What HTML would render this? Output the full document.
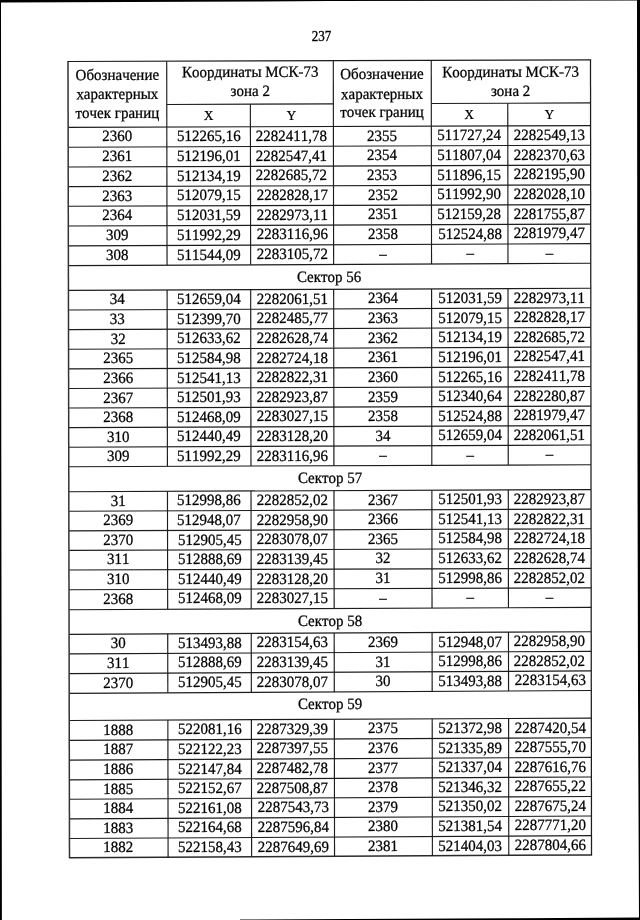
<!DOCTYPE html>
<html lang="ru"><head><meta charset="utf-8"><title>237</title>
<style>
html,body{margin:0;padding:0;background:#fff}
#page{position:relative;width:640px;height:920px;background:#fff;overflow:hidden;font-kerning:none;font-variant-ligatures:none;font-family:"Liberation Serif",serif;color:#000}
#page svg{position:absolute;left:0;top:0}
#pn{position:absolute;left:301.5px;width:40px;text-align:center;top:27.6px;font-size:13px;line-height:18px;transform:scaleY(1.07);transform-origin:0 13.4px;-webkit-text-stroke:0.3px #000}
.t{position:absolute;text-align:center;white-space:nowrap;font-size:15px;line-height:20px;height:20px;transform:rotate(-0.2deg) scaleY(1.05);transform-origin:50% 15.06px;-webkit-text-stroke:0.25px #000}
.t.s{font-size:13px}
</style></head><body>
<div id="page">
<svg width="640" height="920" viewBox="0 0 640 920">
<path fill="#000" fill-rule="evenodd" d="M0 0H640V920H0Z M1 2.6 L1.3 460 L1.9 921 L240 921 L240 919.5 L350 919 L520 918.2 L639 917.4 L638 690 L637.5 460 L637 0.5 L330 1 L260 1.6 Z"/>
<g fill="none" shape-rendering="geometricPrecision">
<line x1="67.40" y1="61.50" x2="591.10" y2="59.80" stroke="#1c1c1c" stroke-width="1.25"/>
<line x1="68.90" y1="857.80" x2="592.10" y2="854.90" stroke="#2a2a2a" stroke-width="1.5"/>
<line x1="68.12" y1="127.40" x2="590.58" y2="125.65" stroke="#1c1c1c" stroke-width="1.15"/>
<line x1="68.16" y1="147.20" x2="590.61" y2="145.20" stroke="#1c1c1c" stroke-width="1.15"/>
<line x1="68.20" y1="167.00" x2="590.63" y2="165.10" stroke="#1c1c1c" stroke-width="1.15"/>
<line x1="68.24" y1="186.60" x2="590.65" y2="184.80" stroke="#1c1c1c" stroke-width="1.15"/>
<line x1="68.27" y1="206.20" x2="590.68" y2="204.60" stroke="#1c1c1c" stroke-width="1.15"/>
<line x1="68.31" y1="226.00" x2="590.70" y2="224.10" stroke="#1c1c1c" stroke-width="1.15"/>
<line x1="68.35" y1="245.90" x2="590.73" y2="243.60" stroke="#1c1c1c" stroke-width="1.15"/>
<line x1="68.38" y1="265.65" x2="590.75" y2="263.30" stroke="#1c1c1c" stroke-width="1.15"/>
<line x1="68.43" y1="290.40" x2="590.78" y2="288.30" stroke="#1c1c1c" stroke-width="1.15"/>
<line x1="68.47" y1="310.00" x2="590.81" y2="307.80" stroke="#1c1c1c" stroke-width="1.15"/>
<line x1="68.51" y1="329.60" x2="590.83" y2="327.40" stroke="#1c1c1c" stroke-width="1.15"/>
<line x1="68.54" y1="349.30" x2="590.86" y2="347.00" stroke="#1c1c1c" stroke-width="1.15"/>
<line x1="68.58" y1="368.90" x2="590.88" y2="366.80" stroke="#1c1c1c" stroke-width="1.15"/>
<line x1="68.62" y1="388.50" x2="590.91" y2="386.50" stroke="#1c1c1c" stroke-width="1.15"/>
<line x1="68.65" y1="408.00" x2="590.93" y2="406.10" stroke="#1c1c1c" stroke-width="1.15"/>
<line x1="68.69" y1="427.60" x2="590.96" y2="425.60" stroke="#1c1c1c" stroke-width="1.15"/>
<line x1="68.73" y1="447.20" x2="590.98" y2="445.00" stroke="#1c1c1c" stroke-width="1.15"/>
<line x1="68.76" y1="466.70" x2="591.01" y2="464.80" stroke="#1c1c1c" stroke-width="1.15"/>
<line x1="68.81" y1="491.70" x2="591.04" y2="489.60" stroke="#1c1c1c" stroke-width="1.15"/>
<line x1="68.85" y1="511.30" x2="591.06" y2="509.10" stroke="#1c1c1c" stroke-width="1.15"/>
<line x1="68.88" y1="530.90" x2="591.09" y2="528.70" stroke="#1c1c1c" stroke-width="1.15"/>
<line x1="68.92" y1="550.40" x2="591.11" y2="548.50" stroke="#1c1c1c" stroke-width="1.15"/>
<line x1="68.96" y1="570.00" x2="591.14" y2="568.30" stroke="#1c1c1c" stroke-width="1.15"/>
<line x1="68.99" y1="589.70" x2="591.16" y2="587.80" stroke="#1c1c1c" stroke-width="1.15"/>
<line x1="69.03" y1="609.70" x2="591.19" y2="607.40" stroke="#1c1c1c" stroke-width="1.15"/>
<line x1="69.08" y1="634.30" x2="591.22" y2="631.70" stroke="#1c1c1c" stroke-width="1.15"/>
<line x1="69.12" y1="653.90" x2="591.24" y2="651.30" stroke="#1c1c1c" stroke-width="1.15"/>
<line x1="69.15" y1="673.60" x2="591.27" y2="670.90" stroke="#1c1c1c" stroke-width="1.15"/>
<line x1="69.19" y1="693.40" x2="591.29" y2="690.50" stroke="#1c1c1c" stroke-width="1.15"/>
<line x1="69.24" y1="720.50" x2="591.32" y2="718.10" stroke="#1c1c1c" stroke-width="1.15"/>
<line x1="69.28" y1="740.30" x2="591.35" y2="737.70" stroke="#1c1c1c" stroke-width="1.15"/>
<line x1="69.32" y1="760.10" x2="591.37" y2="757.30" stroke="#1c1c1c" stroke-width="1.15"/>
<line x1="69.35" y1="779.80" x2="591.40" y2="777.00" stroke="#1c1c1c" stroke-width="1.15"/>
<line x1="69.39" y1="799.20" x2="591.42" y2="796.50" stroke="#1c1c1c" stroke-width="1.15"/>
<line x1="69.43" y1="818.90" x2="591.45" y2="816.00" stroke="#1c1c1c" stroke-width="1.15"/>
<line x1="69.46" y1="838.50" x2="591.47" y2="835.60" stroke="#1c1c1c" stroke-width="1.15"/>
<line x1="166.78" y1="104.52" x2="333.37" y2="103.88" stroke="#1c1c1c" stroke-width="1.15"/>
<line x1="431.31" y1="103.51" x2="590.55" y2="102.90" stroke="#1c1c1c" stroke-width="1.15"/>
<line x1="68.00" y1="61.50" x2="69.50" y2="857.80" stroke="#333" stroke-width="1.5"/>
<line x1="590.50" y1="59.80" x2="591.50" y2="854.90" stroke="#1c1c1c" stroke-width="1.25"/>
<line x1="166.70" y1="61.18" x2="166.82" y2="127.07" stroke="#1c1c1c" stroke-width="1.15"/>
<line x1="333.30" y1="60.64" x2="333.40" y2="126.51" stroke="#1c1c1c" stroke-width="1.15"/>
<line x1="431.25" y1="60.32" x2="431.34" y2="126.18" stroke="#1c1c1c" stroke-width="1.15"/>
<line x1="250.37" y1="104.20" x2="250.41" y2="126.79" stroke="#1c1c1c" stroke-width="1.15"/>
<line x1="507.76" y1="103.22" x2="507.79" y2="125.93" stroke="#1c1c1c" stroke-width="1.15"/>
<line x1="166.82" y1="127.07" x2="166.85" y2="146.82" stroke="#1c1c1c" stroke-width="1.15"/>
<line x1="250.41" y1="126.79" x2="250.44" y2="146.50" stroke="#1c1c1c" stroke-width="1.15"/>
<line x1="333.40" y1="126.51" x2="333.43" y2="146.18" stroke="#1c1c1c" stroke-width="1.15"/>
<line x1="431.34" y1="126.18" x2="431.37" y2="145.81" stroke="#1c1c1c" stroke-width="1.15"/>
<line x1="507.79" y1="125.93" x2="507.81" y2="145.52" stroke="#1c1c1c" stroke-width="1.15"/>
<line x1="166.85" y1="146.82" x2="166.89" y2="166.64" stroke="#1c1c1c" stroke-width="1.15"/>
<line x1="250.44" y1="146.50" x2="250.47" y2="166.34" stroke="#1c1c1c" stroke-width="1.15"/>
<line x1="333.43" y1="146.18" x2="333.46" y2="166.04" stroke="#1c1c1c" stroke-width="1.15"/>
<line x1="431.37" y1="145.81" x2="431.40" y2="165.68" stroke="#1c1c1c" stroke-width="1.15"/>
<line x1="507.81" y1="145.52" x2="507.84" y2="165.40" stroke="#1c1c1c" stroke-width="1.15"/>
<line x1="166.89" y1="166.64" x2="166.92" y2="186.26" stroke="#1c1c1c" stroke-width="1.15"/>
<line x1="250.47" y1="166.34" x2="250.51" y2="185.97" stroke="#1c1c1c" stroke-width="1.15"/>
<line x1="333.46" y1="166.04" x2="333.49" y2="185.69" stroke="#1c1c1c" stroke-width="1.15"/>
<line x1="431.40" y1="165.68" x2="431.43" y2="185.35" stroke="#1c1c1c" stroke-width="1.15"/>
<line x1="507.84" y1="165.40" x2="507.87" y2="185.09" stroke="#1c1c1c" stroke-width="1.15"/>
<line x1="166.92" y1="186.26" x2="166.95" y2="205.90" stroke="#1c1c1c" stroke-width="1.15"/>
<line x1="250.51" y1="185.97" x2="250.54" y2="205.64" stroke="#1c1c1c" stroke-width="1.15"/>
<line x1="333.49" y1="185.69" x2="333.53" y2="205.39" stroke="#1c1c1c" stroke-width="1.15"/>
<line x1="431.43" y1="185.35" x2="431.46" y2="205.09" stroke="#1c1c1c" stroke-width="1.15"/>
<line x1="507.87" y1="185.09" x2="507.89" y2="204.85" stroke="#1c1c1c" stroke-width="1.15"/>
<line x1="166.95" y1="205.90" x2="166.99" y2="225.64" stroke="#1c1c1c" stroke-width="1.15"/>
<line x1="250.54" y1="205.64" x2="250.57" y2="225.34" stroke="#1c1c1c" stroke-width="1.15"/>
<line x1="333.53" y1="205.39" x2="333.56" y2="225.04" stroke="#1c1c1c" stroke-width="1.15"/>
<line x1="431.46" y1="205.09" x2="431.49" y2="224.68" stroke="#1c1c1c" stroke-width="1.15"/>
<line x1="507.89" y1="204.85" x2="507.92" y2="224.40" stroke="#1c1c1c" stroke-width="1.15"/>
<line x1="166.99" y1="225.64" x2="167.02" y2="245.47" stroke="#1c1c1c" stroke-width="1.15"/>
<line x1="250.57" y1="225.34" x2="250.61" y2="245.10" stroke="#1c1c1c" stroke-width="1.15"/>
<line x1="333.56" y1="225.04" x2="333.59" y2="244.73" stroke="#1c1c1c" stroke-width="1.15"/>
<line x1="431.49" y1="224.68" x2="431.51" y2="244.30" stroke="#1c1c1c" stroke-width="1.15"/>
<line x1="507.92" y1="224.40" x2="507.95" y2="243.96" stroke="#1c1c1c" stroke-width="1.15"/>
<line x1="167.02" y1="245.47" x2="167.06" y2="265.21" stroke="#1c1c1c" stroke-width="1.15"/>
<line x1="250.61" y1="245.10" x2="250.64" y2="264.83" stroke="#1c1c1c" stroke-width="1.15"/>
<line x1="333.59" y1="244.73" x2="333.62" y2="264.46" stroke="#1c1c1c" stroke-width="1.15"/>
<line x1="431.51" y1="244.30" x2="431.54" y2="264.02" stroke="#1c1c1c" stroke-width="1.15"/>
<line x1="507.95" y1="243.96" x2="507.97" y2="263.67" stroke="#1c1c1c" stroke-width="1.15"/>
<line x1="167.10" y1="290.00" x2="167.14" y2="309.58" stroke="#1c1c1c" stroke-width="1.15"/>
<line x1="250.68" y1="289.67" x2="250.71" y2="309.23" stroke="#1c1c1c" stroke-width="1.15"/>
<line x1="333.66" y1="289.33" x2="333.69" y2="308.88" stroke="#1c1c1c" stroke-width="1.15"/>
<line x1="431.58" y1="288.94" x2="431.61" y2="308.47" stroke="#1c1c1c" stroke-width="1.15"/>
<line x1="508.01" y1="288.63" x2="508.03" y2="308.15" stroke="#1c1c1c" stroke-width="1.15"/>
<line x1="167.14" y1="309.58" x2="167.17" y2="329.18" stroke="#1c1c1c" stroke-width="1.15"/>
<line x1="250.71" y1="309.23" x2="250.75" y2="328.83" stroke="#1c1c1c" stroke-width="1.15"/>
<line x1="333.69" y1="308.88" x2="333.72" y2="328.48" stroke="#1c1c1c" stroke-width="1.15"/>
<line x1="431.61" y1="308.47" x2="431.64" y2="328.07" stroke="#1c1c1c" stroke-width="1.15"/>
<line x1="508.03" y1="308.15" x2="508.06" y2="327.75" stroke="#1c1c1c" stroke-width="1.15"/>
<line x1="167.17" y1="329.18" x2="167.21" y2="348.87" stroke="#1c1c1c" stroke-width="1.15"/>
<line x1="250.75" y1="328.83" x2="250.78" y2="348.50" stroke="#1c1c1c" stroke-width="1.15"/>
<line x1="333.72" y1="328.48" x2="333.75" y2="348.13" stroke="#1c1c1c" stroke-width="1.15"/>
<line x1="431.64" y1="328.07" x2="431.66" y2="347.70" stroke="#1c1c1c" stroke-width="1.15"/>
<line x1="508.06" y1="327.75" x2="508.09" y2="347.36" stroke="#1c1c1c" stroke-width="1.15"/>
<line x1="167.21" y1="348.87" x2="167.24" y2="368.50" stroke="#1c1c1c" stroke-width="1.15"/>
<line x1="250.78" y1="348.50" x2="250.81" y2="368.17" stroke="#1c1c1c" stroke-width="1.15"/>
<line x1="333.75" y1="348.13" x2="333.78" y2="367.83" stroke="#1c1c1c" stroke-width="1.15"/>
<line x1="431.66" y1="347.70" x2="431.69" y2="367.44" stroke="#1c1c1c" stroke-width="1.15"/>
<line x1="508.09" y1="347.36" x2="508.11" y2="367.13" stroke="#1c1c1c" stroke-width="1.15"/>
<line x1="167.24" y1="368.50" x2="167.28" y2="388.12" stroke="#1c1c1c" stroke-width="1.15"/>
<line x1="250.81" y1="368.17" x2="250.84" y2="387.80" stroke="#1c1c1c" stroke-width="1.15"/>
<line x1="333.78" y1="367.83" x2="333.81" y2="387.48" stroke="#1c1c1c" stroke-width="1.15"/>
<line x1="431.69" y1="367.44" x2="431.72" y2="387.11" stroke="#1c1c1c" stroke-width="1.15"/>
<line x1="508.11" y1="367.13" x2="508.14" y2="386.82" stroke="#1c1c1c" stroke-width="1.15"/>
<line x1="167.28" y1="388.12" x2="167.31" y2="407.64" stroke="#1c1c1c" stroke-width="1.15"/>
<line x1="250.84" y1="387.80" x2="250.88" y2="407.34" stroke="#1c1c1c" stroke-width="1.15"/>
<line x1="333.81" y1="387.48" x2="333.84" y2="407.04" stroke="#1c1c1c" stroke-width="1.15"/>
<line x1="431.72" y1="387.11" x2="431.75" y2="406.68" stroke="#1c1c1c" stroke-width="1.15"/>
<line x1="508.14" y1="386.82" x2="508.17" y2="406.40" stroke="#1c1c1c" stroke-width="1.15"/>
<line x1="167.31" y1="407.64" x2="167.35" y2="427.22" stroke="#1c1c1c" stroke-width="1.15"/>
<line x1="250.88" y1="407.34" x2="250.91" y2="426.90" stroke="#1c1c1c" stroke-width="1.15"/>
<line x1="333.84" y1="407.04" x2="333.87" y2="426.58" stroke="#1c1c1c" stroke-width="1.15"/>
<line x1="431.75" y1="406.68" x2="431.78" y2="426.21" stroke="#1c1c1c" stroke-width="1.15"/>
<line x1="508.17" y1="406.40" x2="508.19" y2="425.92" stroke="#1c1c1c" stroke-width="1.15"/>
<line x1="167.35" y1="427.22" x2="167.38" y2="446.78" stroke="#1c1c1c" stroke-width="1.15"/>
<line x1="250.91" y1="426.90" x2="250.94" y2="446.43" stroke="#1c1c1c" stroke-width="1.15"/>
<line x1="333.87" y1="426.58" x2="333.90" y2="446.08" stroke="#1c1c1c" stroke-width="1.15"/>
<line x1="431.78" y1="426.21" x2="431.81" y2="445.67" stroke="#1c1c1c" stroke-width="1.15"/>
<line x1="508.19" y1="425.92" x2="508.22" y2="445.35" stroke="#1c1c1c" stroke-width="1.15"/>
<line x1="167.38" y1="446.78" x2="167.41" y2="466.34" stroke="#1c1c1c" stroke-width="1.15"/>
<line x1="250.94" y1="446.43" x2="250.97" y2="466.04" stroke="#1c1c1c" stroke-width="1.15"/>
<line x1="333.90" y1="446.08" x2="333.93" y2="465.74" stroke="#1c1c1c" stroke-width="1.15"/>
<line x1="431.81" y1="445.67" x2="431.83" y2="465.38" stroke="#1c1c1c" stroke-width="1.15"/>
<line x1="508.22" y1="445.35" x2="508.25" y2="465.10" stroke="#1c1c1c" stroke-width="1.15"/>
<line x1="167.46" y1="491.30" x2="167.49" y2="510.88" stroke="#1c1c1c" stroke-width="1.15"/>
<line x1="251.01" y1="490.97" x2="251.05" y2="510.53" stroke="#1c1c1c" stroke-width="1.15"/>
<line x1="333.97" y1="490.63" x2="334.00" y2="510.18" stroke="#1c1c1c" stroke-width="1.15"/>
<line x1="431.87" y1="490.24" x2="431.90" y2="509.77" stroke="#1c1c1c" stroke-width="1.15"/>
<line x1="508.28" y1="489.93" x2="508.31" y2="509.45" stroke="#1c1c1c" stroke-width="1.15"/>
<line x1="167.49" y1="510.88" x2="167.53" y2="530.48" stroke="#1c1c1c" stroke-width="1.15"/>
<line x1="251.05" y1="510.53" x2="251.08" y2="530.13" stroke="#1c1c1c" stroke-width="1.15"/>
<line x1="334.00" y1="510.18" x2="334.03" y2="529.78" stroke="#1c1c1c" stroke-width="1.15"/>
<line x1="431.90" y1="509.77" x2="431.93" y2="529.37" stroke="#1c1c1c" stroke-width="1.15"/>
<line x1="508.31" y1="509.45" x2="508.33" y2="529.05" stroke="#1c1c1c" stroke-width="1.15"/>
<line x1="167.53" y1="530.48" x2="167.56" y2="550.04" stroke="#1c1c1c" stroke-width="1.15"/>
<line x1="251.08" y1="530.13" x2="251.11" y2="549.74" stroke="#1c1c1c" stroke-width="1.15"/>
<line x1="334.03" y1="529.78" x2="334.06" y2="549.44" stroke="#1c1c1c" stroke-width="1.15"/>
<line x1="431.93" y1="529.37" x2="431.96" y2="549.08" stroke="#1c1c1c" stroke-width="1.15"/>
<line x1="508.33" y1="529.05" x2="508.36" y2="548.80" stroke="#1c1c1c" stroke-width="1.15"/>
<line x1="167.56" y1="550.04" x2="167.60" y2="569.68" stroke="#1c1c1c" stroke-width="1.15"/>
<line x1="251.11" y1="549.74" x2="251.15" y2="569.41" stroke="#1c1c1c" stroke-width="1.15"/>
<line x1="334.06" y1="549.44" x2="334.09" y2="569.14" stroke="#1c1c1c" stroke-width="1.15"/>
<line x1="431.96" y1="549.08" x2="431.98" y2="568.82" stroke="#1c1c1c" stroke-width="1.15"/>
<line x1="508.36" y1="548.80" x2="508.39" y2="568.57" stroke="#1c1c1c" stroke-width="1.15"/>
<line x1="167.60" y1="569.68" x2="167.63" y2="589.34" stroke="#1c1c1c" stroke-width="1.15"/>
<line x1="251.15" y1="569.41" x2="251.18" y2="589.04" stroke="#1c1c1c" stroke-width="1.15"/>
<line x1="334.09" y1="569.14" x2="334.13" y2="588.74" stroke="#1c1c1c" stroke-width="1.15"/>
<line x1="431.98" y1="568.82" x2="432.01" y2="588.38" stroke="#1c1c1c" stroke-width="1.15"/>
<line x1="508.39" y1="568.57" x2="508.41" y2="588.10" stroke="#1c1c1c" stroke-width="1.15"/>
<line x1="167.63" y1="589.34" x2="167.67" y2="609.27" stroke="#1c1c1c" stroke-width="1.15"/>
<line x1="251.18" y1="589.04" x2="251.21" y2="608.90" stroke="#1c1c1c" stroke-width="1.15"/>
<line x1="334.13" y1="588.74" x2="334.16" y2="608.53" stroke="#1c1c1c" stroke-width="1.15"/>
<line x1="432.01" y1="588.38" x2="432.04" y2="608.10" stroke="#1c1c1c" stroke-width="1.15"/>
<line x1="508.41" y1="588.10" x2="508.44" y2="607.76" stroke="#1c1c1c" stroke-width="1.15"/>
<line x1="167.71" y1="633.81" x2="167.74" y2="653.41" stroke="#1c1c1c" stroke-width="1.15"/>
<line x1="251.25" y1="633.39" x2="251.28" y2="652.99" stroke="#1c1c1c" stroke-width="1.15"/>
<line x1="334.19" y1="632.98" x2="334.22" y2="652.58" stroke="#1c1c1c" stroke-width="1.15"/>
<line x1="432.08" y1="632.49" x2="432.10" y2="652.09" stroke="#1c1c1c" stroke-width="1.15"/>
<line x1="508.47" y1="632.11" x2="508.50" y2="651.71" stroke="#1c1c1c" stroke-width="1.15"/>
<line x1="167.74" y1="653.41" x2="167.78" y2="673.09" stroke="#1c1c1c" stroke-width="1.15"/>
<line x1="251.28" y1="652.99" x2="251.32" y2="672.66" stroke="#1c1c1c" stroke-width="1.15"/>
<line x1="334.22" y1="652.58" x2="334.26" y2="672.23" stroke="#1c1c1c" stroke-width="1.15"/>
<line x1="432.10" y1="652.09" x2="432.13" y2="671.72" stroke="#1c1c1c" stroke-width="1.15"/>
<line x1="508.50" y1="651.71" x2="508.53" y2="671.33" stroke="#1c1c1c" stroke-width="1.15"/>
<line x1="167.78" y1="673.09" x2="167.81" y2="692.85" stroke="#1c1c1c" stroke-width="1.15"/>
<line x1="251.32" y1="672.66" x2="251.35" y2="692.39" stroke="#1c1c1c" stroke-width="1.15"/>
<line x1="334.26" y1="672.23" x2="334.29" y2="691.93" stroke="#1c1c1c" stroke-width="1.15"/>
<line x1="432.13" y1="671.72" x2="432.16" y2="691.38" stroke="#1c1c1c" stroke-width="1.15"/>
<line x1="508.53" y1="671.33" x2="508.55" y2="690.96" stroke="#1c1c1c" stroke-width="1.15"/>
<line x1="167.86" y1="720.05" x2="167.90" y2="739.81" stroke="#1c1c1c" stroke-width="1.15"/>
<line x1="251.40" y1="719.66" x2="251.43" y2="739.39" stroke="#1c1c1c" stroke-width="1.15"/>
<line x1="334.33" y1="719.28" x2="334.36" y2="738.98" stroke="#1c1c1c" stroke-width="1.15"/>
<line x1="432.20" y1="718.83" x2="432.23" y2="738.49" stroke="#1c1c1c" stroke-width="1.15"/>
<line x1="508.59" y1="718.48" x2="508.62" y2="738.11" stroke="#1c1c1c" stroke-width="1.15"/>
<line x1="167.90" y1="739.81" x2="167.93" y2="759.57" stroke="#1c1c1c" stroke-width="1.15"/>
<line x1="251.43" y1="739.39" x2="251.46" y2="759.12" stroke="#1c1c1c" stroke-width="1.15"/>
<line x1="334.36" y1="738.98" x2="334.39" y2="758.68" stroke="#1c1c1c" stroke-width="1.15"/>
<line x1="432.23" y1="738.49" x2="432.26" y2="758.15" stroke="#1c1c1c" stroke-width="1.15"/>
<line x1="508.62" y1="738.11" x2="508.64" y2="757.74" stroke="#1c1c1c" stroke-width="1.15"/>
<line x1="167.93" y1="759.57" x2="167.97" y2="779.27" stroke="#1c1c1c" stroke-width="1.15"/>
<line x1="251.46" y1="759.12" x2="251.49" y2="778.82" stroke="#1c1c1c" stroke-width="1.15"/>
<line x1="334.39" y1="758.68" x2="334.42" y2="778.38" stroke="#1c1c1c" stroke-width="1.15"/>
<line x1="432.26" y1="758.15" x2="432.29" y2="777.85" stroke="#1c1c1c" stroke-width="1.15"/>
<line x1="508.64" y1="757.74" x2="508.67" y2="777.44" stroke="#1c1c1c" stroke-width="1.15"/>
<line x1="167.97" y1="779.27" x2="168.00" y2="798.69" stroke="#1c1c1c" stroke-width="1.15"/>
<line x1="251.49" y1="778.82" x2="251.53" y2="798.26" stroke="#1c1c1c" stroke-width="1.15"/>
<line x1="334.42" y1="778.38" x2="334.45" y2="797.83" stroke="#1c1c1c" stroke-width="1.15"/>
<line x1="432.29" y1="777.85" x2="432.31" y2="797.32" stroke="#1c1c1c" stroke-width="1.15"/>
<line x1="508.67" y1="777.44" x2="508.70" y2="796.93" stroke="#1c1c1c" stroke-width="1.15"/>
<line x1="168.00" y1="798.69" x2="168.04" y2="818.35" stroke="#1c1c1c" stroke-width="1.15"/>
<line x1="251.53" y1="798.26" x2="251.56" y2="817.89" stroke="#1c1c1c" stroke-width="1.15"/>
<line x1="334.45" y1="797.83" x2="334.48" y2="817.43" stroke="#1c1c1c" stroke-width="1.15"/>
<line x1="432.31" y1="797.32" x2="432.34" y2="816.88" stroke="#1c1c1c" stroke-width="1.15"/>
<line x1="508.70" y1="796.93" x2="508.72" y2="816.46" stroke="#1c1c1c" stroke-width="1.15"/>
<line x1="168.04" y1="818.35" x2="168.07" y2="837.95" stroke="#1c1c1c" stroke-width="1.15"/>
<line x1="251.56" y1="817.89" x2="251.59" y2="837.49" stroke="#1c1c1c" stroke-width="1.15"/>
<line x1="334.48" y1="817.43" x2="334.51" y2="837.03" stroke="#1c1c1c" stroke-width="1.15"/>
<line x1="432.34" y1="816.88" x2="432.37" y2="836.48" stroke="#1c1c1c" stroke-width="1.15"/>
<line x1="508.72" y1="816.46" x2="508.75" y2="836.06" stroke="#1c1c1c" stroke-width="1.15"/>
<line x1="168.07" y1="837.95" x2="168.10" y2="857.25" stroke="#1c1c1c" stroke-width="1.15"/>
<line x1="251.59" y1="837.49" x2="251.62" y2="856.79" stroke="#1c1c1c" stroke-width="1.15"/>
<line x1="334.51" y1="837.03" x2="334.54" y2="856.33" stroke="#1c1c1c" stroke-width="1.15"/>
<line x1="432.37" y1="836.48" x2="432.40" y2="855.78" stroke="#1c1c1c" stroke-width="1.15"/>
<line x1="508.75" y1="836.06" x2="508.78" y2="855.36" stroke="#1c1c1c" stroke-width="1.15"/>
</g>
</svg>
<div id="pn">237</div>
<div class="t" style="left:68.03px;width:98.70px;top:64.88px">Обозначение</div>
<div class="t" style="left:68.07px;width:98.70px;top:84.38px">характерных</div>
<div class="t" style="left:68.10px;width:98.70px;top:103.08px">точек границ</div>
<div class="t" style="left:333.33px;width:97.95px;top:64.01px">Обозначение</div>
<div class="t" style="left:333.36px;width:97.95px;top:83.51px">характерных</div>
<div class="t" style="left:333.38px;width:97.95px;top:102.21px">точек границ</div>
<div class="t" style="left:166.73px;width:166.60px;top:62.35px">Координаты МСК-73</div>
<div class="t" style="left:166.76px;width:166.60px;top:81.45px">зона 2</div>
<div class="t" style="left:431.27px;width:159.25px;top:61.50px">Координаты МСК-73</div>
<div class="t" style="left:431.30px;width:159.25px;top:80.60px">зона 2</div>
<div class="t s" style="left:166.80px;width:83.60px;top:105.78px">X</div>
<div class="t s" style="left:250.40px;width:83.00px;top:105.51px">Y</div>
<div class="t s" style="left:431.33px;width:76.45px;top:104.93px">X</div>
<div class="t s" style="left:507.78px;width:82.80px;top:104.67px">Y</div>
<div class="t" style="left:68.15px;width:98.70px;top:126.47px">2360</div>
<div class="t" style="left:166.84px;width:83.60px;top:126.17px">512265,16</div>
<div class="t" style="left:250.43px;width:83.00px;top:125.89px">2282411,78</div>
<div class="t" style="left:333.42px;width:97.95px;top:125.58px">2355</div>
<div class="t" style="left:431.36px;width:76.45px;top:125.29px">511727,24</div>
<div class="t" style="left:507.80px;width:82.80px;top:125.03px">2282549,13</div>
<div class="t" style="left:68.18px;width:98.70px;top:146.25px">2361</div>
<div class="t" style="left:166.87px;width:83.60px;top:145.90px">512196,01</div>
<div class="t" style="left:250.46px;width:83.00px;top:145.58px">2282547,41</div>
<div class="t" style="left:333.45px;width:97.95px;top:145.23px">2354</div>
<div class="t" style="left:431.39px;width:76.45px;top:144.90px">511807,04</div>
<div class="t" style="left:507.83px;width:82.80px;top:144.60px">2282370,63</div>
<div class="t" style="left:68.22px;width:98.70px;top:166.06px">2362</div>
<div class="t" style="left:166.90px;width:83.60px;top:165.73px">512134,19</div>
<div class="t" style="left:250.49px;width:83.00px;top:165.42px">2282685,72</div>
<div class="t" style="left:333.48px;width:97.95px;top:165.09px">2353</div>
<div class="t" style="left:431.42px;width:76.45px;top:164.78px">511896,15</div>
<div class="t" style="left:507.85px;width:82.80px;top:164.49px">2282195,90</div>
<div class="t" style="left:68.25px;width:98.70px;top:185.67px">2363</div>
<div class="t" style="left:166.94px;width:83.60px;top:185.35px">512079,15</div>
<div class="t" style="left:250.52px;width:83.00px;top:185.07px">2282828,17</div>
<div class="t" style="left:333.51px;width:97.95px;top:184.75px">2352</div>
<div class="t" style="left:431.44px;width:76.45px;top:184.45px">511992,90</div>
<div class="t" style="left:507.88px;width:82.80px;top:184.18px">2282028,10</div>
<div class="t" style="left:68.29px;width:98.70px;top:205.29px">2364</div>
<div class="t" style="left:166.97px;width:83.60px;top:205.01px">512031,59</div>
<div class="t" style="left:250.56px;width:83.00px;top:204.75px">2282973,11</div>
<div class="t" style="left:333.54px;width:97.95px;top:204.48px">2351</div>
<div class="t" style="left:431.47px;width:76.45px;top:204.21px">512159,28</div>
<div class="t" style="left:507.91px;width:82.80px;top:203.96px">2281755,87</div>
<div class="t" style="left:68.33px;width:98.70px;top:225.06px">309</div>
<div class="t" style="left:167.01px;width:83.60px;top:224.73px">511992,29</div>
<div class="t" style="left:250.59px;width:83.00px;top:224.42px">2283116,96</div>
<div class="t" style="left:333.57px;width:97.95px;top:224.09px">2358</div>
<div class="t" style="left:431.50px;width:76.45px;top:223.78px">512524,88</div>
<div class="t" style="left:507.93px;width:82.80px;top:223.49px">2281979,47</div>
<div class="t" style="left:68.36px;width:98.70px;top:244.92px">308</div>
<div class="t" style="left:167.04px;width:83.60px;top:244.52px">511544,09</div>
<div class="t" style="left:250.62px;width:83.00px;top:244.15px">2283105,72</div>
<div class="t" style="left:333.60px;width:97.95px;top:243.75px">–</div>
<div class="t" style="left:431.53px;width:76.45px;top:243.37px">–</div>
<div class="t" style="left:507.96px;width:82.80px;top:243.02px">–</div>
<div class="t" style="left:68.35px;width:522.50px;top:266.61px">Сектор 56</div>
<div class="t" style="left:68.44px;width:98.70px;top:289.44px">34</div>
<div class="t" style="left:167.12px;width:83.60px;top:289.07px">512659,04</div>
<div class="t" style="left:250.69px;width:83.00px;top:288.74px">2282061,51</div>
<div class="t" style="left:333.66px;width:97.95px;top:288.37px">2364</div>
<div class="t" style="left:431.59px;width:76.45px;top:288.02px">512031,59</div>
<div class="t" style="left:508.01px;width:82.80px;top:287.70px">2282973,11</div>
<div class="t" style="left:68.48px;width:98.70px;top:309.03px">33</div>
<div class="t" style="left:167.15px;width:83.60px;top:308.65px">512399,70</div>
<div class="t" style="left:250.72px;width:83.00px;top:308.30px">2282485,77</div>
<div class="t" style="left:333.69px;width:97.95px;top:307.91px">2363</div>
<div class="t" style="left:431.62px;width:76.45px;top:307.55px">512079,15</div>
<div class="t" style="left:508.04px;width:82.80px;top:307.21px">2282828,17</div>
<div class="t" style="left:68.51px;width:98.70px;top:328.63px">32</div>
<div class="t" style="left:167.18px;width:83.60px;top:328.25px">512633,62</div>
<div class="t" style="left:250.75px;width:83.00px;top:327.90px">2282628,74</div>
<div class="t" style="left:333.72px;width:97.95px;top:327.51px">2362</div>
<div class="t" style="left:431.64px;width:76.45px;top:327.15px">512134,19</div>
<div class="t" style="left:508.07px;width:82.80px;top:326.81px">2282685,72</div>
<div class="t" style="left:68.55px;width:98.70px;top:348.32px">2365</div>
<div class="t" style="left:167.22px;width:83.60px;top:347.92px">512584,98</div>
<div class="t" style="left:250.79px;width:83.00px;top:347.55px">2282724,18</div>
<div class="t" style="left:333.75px;width:97.95px;top:347.15px">2361</div>
<div class="t" style="left:431.67px;width:76.45px;top:346.77px">512196,01</div>
<div class="t" style="left:508.09px;width:82.80px;top:346.42px">2282547,41</div>
<div class="t" style="left:68.59px;width:98.70px;top:367.94px">2366</div>
<div class="t" style="left:167.25px;width:83.60px;top:367.57px">512541,13</div>
<div class="t" style="left:250.82px;width:83.00px;top:367.24px">2282822,31</div>
<div class="t" style="left:333.78px;width:97.95px;top:366.87px">2360</div>
<div class="t" style="left:431.70px;width:76.45px;top:366.52px">512265,16</div>
<div class="t" style="left:508.12px;width:82.80px;top:366.20px">2282411,78</div>
<div class="t" style="left:68.62px;width:98.70px;top:387.55px">2367</div>
<div class="t" style="left:167.28px;width:83.60px;top:387.20px">512501,93</div>
<div class="t" style="left:250.85px;width:83.00px;top:386.88px">2282923,87</div>
<div class="t" style="left:333.81px;width:97.95px;top:386.53px">2359</div>
<div class="t" style="left:431.73px;width:76.45px;top:386.20px">512340,64</div>
<div class="t" style="left:508.14px;width:82.80px;top:385.90px">2282280,87</div>
<div class="t" style="left:68.66px;width:98.70px;top:407.06px">2368</div>
<div class="t" style="left:167.32px;width:83.60px;top:406.73px">512468,09</div>
<div class="t" style="left:250.88px;width:83.00px;top:406.42px">2283027,15</div>
<div class="t" style="left:333.84px;width:97.95px;top:406.09px">2358</div>
<div class="t" style="left:431.75px;width:76.45px;top:405.78px">512524,88</div>
<div class="t" style="left:508.17px;width:82.80px;top:405.49px">2281979,47</div>
<div class="t" style="left:68.69px;width:98.70px;top:426.65px">310</div>
<div class="t" style="left:167.35px;width:83.60px;top:426.30px">512440,49</div>
<div class="t" style="left:250.91px;width:83.00px;top:425.98px">2283128,20</div>
<div class="t" style="left:333.87px;width:97.95px;top:425.63px">34</div>
<div class="t" style="left:431.78px;width:76.45px;top:425.30px">512659,04</div>
<div class="t" style="left:508.19px;width:82.80px;top:425.00px">2282061,51</div>
<div class="t" style="left:68.73px;width:98.70px;top:446.23px">309</div>
<div class="t" style="left:167.38px;width:83.60px;top:445.85px">511992,29</div>
<div class="t" style="left:250.94px;width:83.00px;top:445.50px">2283116,96</div>
<div class="t" style="left:333.90px;width:97.95px;top:445.11px">–</div>
<div class="t" style="left:431.81px;width:76.45px;top:444.75px">–</div>
<div class="t" style="left:508.22px;width:82.80px;top:444.41px">–</div>
<div class="t" style="left:68.66px;width:522.50px;top:467.89px">Сектор 57</div>
<div class="t" style="left:68.81px;width:98.70px;top:490.74px">31</div>
<div class="t" style="left:167.46px;width:83.60px;top:490.37px">512998,86</div>
<div class="t" style="left:251.02px;width:83.00px;top:490.04px">2282852,02</div>
<div class="t" style="left:333.97px;width:97.95px;top:489.67px">2367</div>
<div class="t" style="left:431.87px;width:76.45px;top:489.32px">512501,93</div>
<div class="t" style="left:508.28px;width:82.80px;top:489.00px">2282923,87</div>
<div class="t" style="left:68.85px;width:98.70px;top:510.33px">2369</div>
<div class="t" style="left:167.49px;width:83.60px;top:509.95px">512948,07</div>
<div class="t" style="left:251.05px;width:83.00px;top:509.60px">2282958,90</div>
<div class="t" style="left:334.00px;width:97.95px;top:509.21px">2366</div>
<div class="t" style="left:431.90px;width:76.45px;top:508.85px">512541,13</div>
<div class="t" style="left:508.30px;width:82.80px;top:508.51px">2282822,31</div>
<div class="t" style="left:68.88px;width:98.70px;top:529.93px">2370</div>
<div class="t" style="left:167.53px;width:83.60px;top:529.55px">512905,45</div>
<div class="t" style="left:251.08px;width:83.00px;top:529.20px">2283078,07</div>
<div class="t" style="left:334.03px;width:97.95px;top:528.81px">2365</div>
<div class="t" style="left:431.93px;width:76.45px;top:528.45px">512584,98</div>
<div class="t" style="left:508.33px;width:82.80px;top:528.11px">2282724,18</div>
<div class="t" style="left:68.92px;width:98.70px;top:549.46px">311</div>
<div class="t" style="left:167.56px;width:83.60px;top:549.13px">512888,69</div>
<div class="t" style="left:251.11px;width:83.00px;top:548.82px">2283139,45</div>
<div class="t" style="left:334.06px;width:97.95px;top:548.49px">32</div>
<div class="t" style="left:431.95px;width:76.45px;top:548.18px">512633,62</div>
<div class="t" style="left:508.35px;width:82.80px;top:547.89px">2282628,74</div>
<div class="t" style="left:68.95px;width:98.70px;top:569.08px">310</div>
<div class="t" style="left:167.60px;width:83.60px;top:568.78px">512440,49</div>
<div class="t" style="left:251.14px;width:83.00px;top:568.51px">2283128,20</div>
<div class="t" style="left:334.09px;width:97.95px;top:568.21px">31</div>
<div class="t" style="left:431.98px;width:76.45px;top:567.93px">512998,86</div>
<div class="t" style="left:508.38px;width:82.80px;top:567.67px">2282852,02</div>
<div class="t" style="left:68.99px;width:98.70px;top:588.76px">2368</div>
<div class="t" style="left:167.63px;width:83.60px;top:588.43px">512468,09</div>
<div class="t" style="left:251.17px;width:83.00px;top:588.12px">2283027,15</div>
<div class="t" style="left:334.12px;width:97.95px;top:587.79px">–</div>
<div class="t" style="left:432.01px;width:76.45px;top:587.48px">–</div>
<div class="t" style="left:508.41px;width:82.80px;top:587.19px">–</div>
<div class="t" style="left:68.89px;width:522.50px;top:610.69px">Сектор 58</div>
<div class="t" style="left:69.07px;width:98.70px;top:633.29px">30</div>
<div class="t" style="left:167.71px;width:83.60px;top:632.84px">513493,88</div>
<div class="t" style="left:251.25px;width:83.00px;top:632.42px">2283154,63</div>
<div class="t" style="left:334.18px;width:97.95px;top:631.97px">2369</div>
<div class="t" style="left:432.07px;width:76.45px;top:631.54px">512948,07</div>
<div class="t" style="left:508.46px;width:82.80px;top:631.14px">2282958,90</div>
<div class="t" style="left:69.11px;width:98.70px;top:652.89px">311</div>
<div class="t" style="left:167.74px;width:83.60px;top:652.44px">512888,69</div>
<div class="t" style="left:251.28px;width:83.00px;top:652.02px">2283139,45</div>
<div class="t" style="left:334.21px;width:97.95px;top:651.57px">31</div>
<div class="t" style="left:432.10px;width:76.45px;top:651.14px">512998,86</div>
<div class="t" style="left:508.49px;width:82.80px;top:650.74px">2282852,02</div>
<div class="t" style="left:69.14px;width:98.70px;top:672.58px">2370</div>
<div class="t" style="left:167.77px;width:83.60px;top:672.11px">512905,45</div>
<div class="t" style="left:251.31px;width:83.00px;top:671.68px">2283078,07</div>
<div class="t" style="left:334.24px;width:97.95px;top:671.21px">30</div>
<div class="t" style="left:432.12px;width:76.45px;top:670.76px">513493,88</div>
<div class="t" style="left:508.51px;width:82.80px;top:670.35px">2283154,63</div>
<div class="t" style="left:69.02px;width:522.50px;top:694.09px">Сектор 59</div>
<div class="t" style="left:69.23px;width:98.70px;top:719.51px">1888</div>
<div class="t" style="left:167.85px;width:83.60px;top:719.09px">522081,16</div>
<div class="t" style="left:251.39px;width:83.00px;top:718.71px">2287329,39</div>
<div class="t" style="left:334.31px;width:97.95px;top:718.29px">2375</div>
<div class="t" style="left:432.19px;width:76.45px;top:717.89px">521372,98</div>
<div class="t" style="left:508.58px;width:82.80px;top:717.53px">2287420,54</div>
<div class="t" style="left:69.26px;width:98.70px;top:739.29px">1887</div>
<div class="t" style="left:167.89px;width:83.60px;top:738.84px">522122,23</div>
<div class="t" style="left:251.42px;width:83.00px;top:738.42px">2287397,55</div>
<div class="t" style="left:334.34px;width:97.95px;top:737.97px">2376</div>
<div class="t" style="left:432.22px;width:76.45px;top:737.54px">521335,89</div>
<div class="t" style="left:508.60px;width:82.80px;top:737.14px">2287555,70</div>
<div class="t" style="left:69.30px;width:98.70px;top:759.07px">1886</div>
<div class="t" style="left:167.92px;width:83.60px;top:758.58px">522147,84</div>
<div class="t" style="left:251.45px;width:83.00px;top:758.14px">2287482,78</div>
<div class="t" style="left:334.37px;width:97.95px;top:757.65px">2377</div>
<div class="t" style="left:432.25px;width:76.45px;top:757.19px">521337,04</div>
<div class="t" style="left:508.63px;width:82.80px;top:756.76px">2287616,76</div>
<div class="t" style="left:69.34px;width:98.70px;top:778.77px">1885</div>
<div class="t" style="left:167.96px;width:83.60px;top:778.28px">522152,67</div>
<div class="t" style="left:251.48px;width:83.00px;top:777.84px">2287508,87</div>
<div class="t" style="left:334.40px;width:97.95px;top:777.35px">2378</div>
<div class="t" style="left:432.27px;width:76.45px;top:776.89px">521346,32</div>
<div class="t" style="left:508.65px;width:82.80px;top:776.46px">2287655,22</div>
<div class="t" style="left:69.37px;width:98.70px;top:798.18px">1884</div>
<div class="t" style="left:167.99px;width:83.60px;top:797.71px">522161,08</div>
<div class="t" style="left:251.51px;width:83.00px;top:797.28px">2287543,73</div>
<div class="t" style="left:334.43px;width:97.95px;top:796.81px">2379</div>
<div class="t" style="left:432.30px;width:76.45px;top:796.36px">521350,02</div>
<div class="t" style="left:508.68px;width:82.80px;top:795.95px">2287675,24</div>
<div class="t" style="left:69.41px;width:98.70px;top:817.86px">1883</div>
<div class="t" style="left:168.02px;width:83.60px;top:817.36px">522164,68</div>
<div class="t" style="left:251.54px;width:83.00px;top:816.90px">2287596,84</div>
<div class="t" style="left:334.46px;width:97.95px;top:816.39px">2380</div>
<div class="t" style="left:432.33px;width:76.45px;top:815.91px">521381,54</div>
<div class="t" style="left:508.70px;width:82.80px;top:815.47px">2287771,20</div>
<div class="t" style="left:69.44px;width:98.70px;top:837.46px">1882</div>
<div class="t" style="left:168.06px;width:83.60px;top:836.96px">522158,43</div>
<div class="t" style="left:251.58px;width:83.00px;top:836.50px">2287649,69</div>
<div class="t" style="left:334.49px;width:97.95px;top:835.99px">2381</div>
<div class="t" style="left:432.36px;width:76.45px;top:835.51px">521404,03</div>
<div class="t" style="left:508.73px;width:82.80px;top:835.07px">2287804,66</div>
</div>
</body></html>
